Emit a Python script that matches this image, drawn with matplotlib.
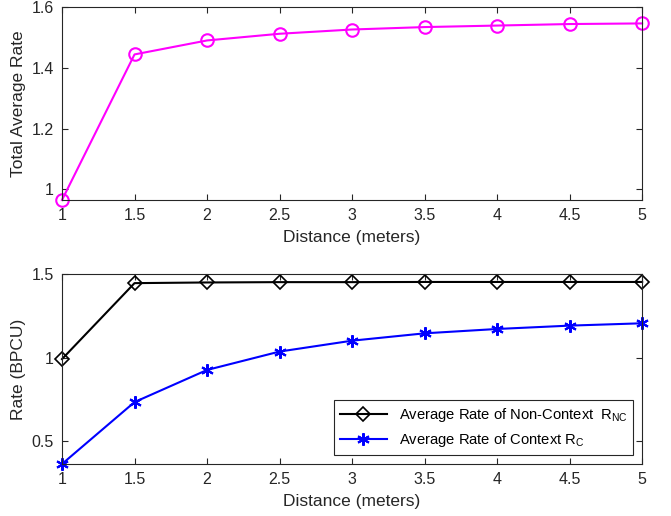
import matplotlib.pyplot as plt

# --- Donnees
distance = [1, 1.5, 2, 2.5, 3, 3.5, 4, 4.5, 5]
total_rate = [0.965, 1.444, 1.490, 1.512, 1.526, 1.534, 1.539, 1.544, 1.546]
rate_nc = [0.992, 1.446, 1.450, 1.452, 1.452, 1.453, 1.453, 1.453, 1.453]
rate_c = [0.365, 0.735, 0.927, 1.037, 1.102, 1.146, 1.172, 1.192, 1.206]
xticks = [1, 1.5, 2, 2.5, 3, 3.5, 4, 4.5, 5]

plt.rcParams['font.family'] = ['Liberation Sans', 'DejaVu Sans']
plt.rcParams['mathtext.fontset'] = 'custom'
plt.rcParams['mathtext.rm'] = 'Liberation Sans'
plt.rcParams['font.size'] = 11
gray = (0.15, 0.15, 0.15)

fig = plt.figure(figsize=(6.71, 5.16), dpi=100)
ax1 = fig.add_axes([0.0924, 0.6124, 0.8646, 0.374])
ax2 = fig.add_axes([0.0924, 0.1008, 0.8646, 0.368])


def style(ax):
	for sp in ax.spines.values():
		sp.set_color(gray)
		sp.set_linewidth(0.8)
	ax.tick_params(direction='in', top=True, right=True, colors=gray,
				   labelcolor=gray, length=4, labelsize=11.5, pad=6)
	ax.set_xlim(1, 5)
	ax.set_xticks(xticks)
	ax.set_xticklabels([f"{t:g}" for t in xticks])
	ax.set_xlabel("Distance (meters)", color=gray, fontsize=12.5, labelpad=5)


# -- Graphique du haut
ax1.plot(distance, total_rate, color=(1, 0, 1), marker='o', markersize=9,
		 markerfacecolor='none', markeredgewidth=1.5, linewidth=1.5, clip_on=False)
style(ax1)
ax1.set_ylim(min(total_rate), 1.6)
ax1.set_yticks([1.0, 1.2, 1.4, 1.6])
ax1.set_yticklabels(["1", "1.2", "1.4", "1.6"])
ax1.set_ylabel("Total Average Rate", color=gray, fontsize=12.5)

# -- Graphique du bas
ax2.plot(distance, rate_nc, color='black', marker='D', markersize=7,
		 markerfacecolor='none', markeredgewidth=1.2, linewidth=1.5, clip_on=False,
		 label="Average Rate of Non-Context  $\\mathregular{R_{NC}}$")
ax2.plot(distance, rate_c, color='blue', marker=(6, 2, 0), markersize=9,
		 markeredgewidth=1.5, linewidth=1.5, clip_on=False,
		 label="Average Rate of Context $\\mathregular{R_C}$")
style(ax2)
ax2.set_ylim(min(rate_c), 1.5)
ax2.set_yticks([0.5, 1.0, 1.5])
ax2.set_yticklabels(["0.5", "1", "1.5"])
ax2.set_ylabel("Rate (BPCU)", color=gray, fontsize=12.5)
leg = ax2.legend(loc='lower right', fontsize=10.6, fancybox=False, framealpha=1,
				 edgecolor=gray, borderaxespad=0.6, handlelength=3.2)
leg.get_frame().set_linewidth(0.8)

fig.savefig("out.png", dpi=100)
